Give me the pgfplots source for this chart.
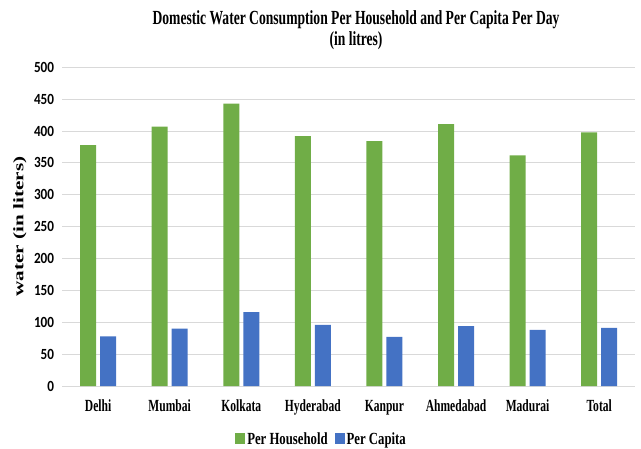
\documentclass[border=0pt]{standalone}
\usepackage{fontspec}
\usepackage{pgfplots}
\pgfplotsset{compat=1.18}
\setmainfont{Liberation Serif}
% narrow and wide bold cuts of the serif, and a bold sans for the value axis
\newfontfamily\condserif{Liberation Serif Bold}[FakeStretch=0.68]
\newfontfamily\legserif{Liberation Serif Bold}[FakeStretch=0.75]
\newfontfamily\wideserif{Liberation Serif Bold}[FakeStretch=1.45]
\newfontfamily\ticksans{Carlito Bold}[FakeStretch=0.85]
\definecolor{hhgreen}{HTML}{70AD47}
\definecolor{pcblue}{HTML}{4472C4}
\definecolor{gridgray}{HTML}{D9D9D9}
% square legend swatches
\pgfplotsset{ybar legend/.style={legend image code/.code={\fill[##1,draw=none] (0bp,-5bp) rectangle (10bp,6bp);}}}

\begin{document}
\begin{tikzpicture}
\useasboundingbox (-62.3bp,-63bp) rectangle (578.7bp,386bp);
\begin{axis}[
  at={(0,0)}, anchor=south west,
  scale only axis, width=572.7bp, height=318.7bp,
  ybar=4bp, bar width=16bp,
  xmin=-0.5, xmax=7.5, ymin=0, ymax=500,
  enlargelimits=false,
  xtick={0,...,7},
  xticklabels={Delhi,Mumbai,Kolkata,Hyderabad,Kanpur,Ahmedabad,Madurai,Total},
  ytick={0,50,...,500},
  axis line style={draw=none},
  major tick length=0pt,
  ymajorgrids, grid style={gridgray, line width=0.9bp},
  /pgf/number format/assume math mode=true,
  yticklabel style={font=\ticksans\fontsize{15.5bp}{18bp}\selectfont, anchor=east, inner sep=0pt, xshift=-8bp},
  xticklabel style={font=\condserif\fontsize{17bp}{20bp}\selectfont, anchor=base, inner sep=0pt, yshift=-25bp},
  ylabel={water (in liters)},
  ylabel style={font=\wideserif\fontsize{14.6bp}{17bp}\selectfont, at={(axis description cs:-0.0739,0.5)}, anchor=center},
  legend style={at={(axis description cs:0.4526,-0.166)}, anchor=center, legend columns=-1, draw=none,
    font=\legserif\fontsize{17bp}{20bp}\selectfont,
    /tikz/every even column/.append style={column sep=5bp}},
]
\addplot[fill=hhgreen, draw=none] coordinates {(0,378) (1,407) (2,443) (3,392) (4,384) (5,411) (6,362) (7,398)};
\addplot[fill=pcblue, draw=none] coordinates {(0,78) (1,90) (2,116) (3,96) (4,77) (5,94) (6,88) (7,91)};
\legend{Per Household, Per Capita}
\end{axis}
\node[anchor=base, font=\condserif\fontsize{20bp}{24bp}\selectfont] at (293.7bp,361bp) {Domestic Water Consumption Per Household and Per Capita Per Day};
\node[anchor=base, font=\condserif\fontsize{20bp}{24bp}\selectfont] at (293.7bp,340bp) {(in litres)};
\end{tikzpicture}
\end{document}
